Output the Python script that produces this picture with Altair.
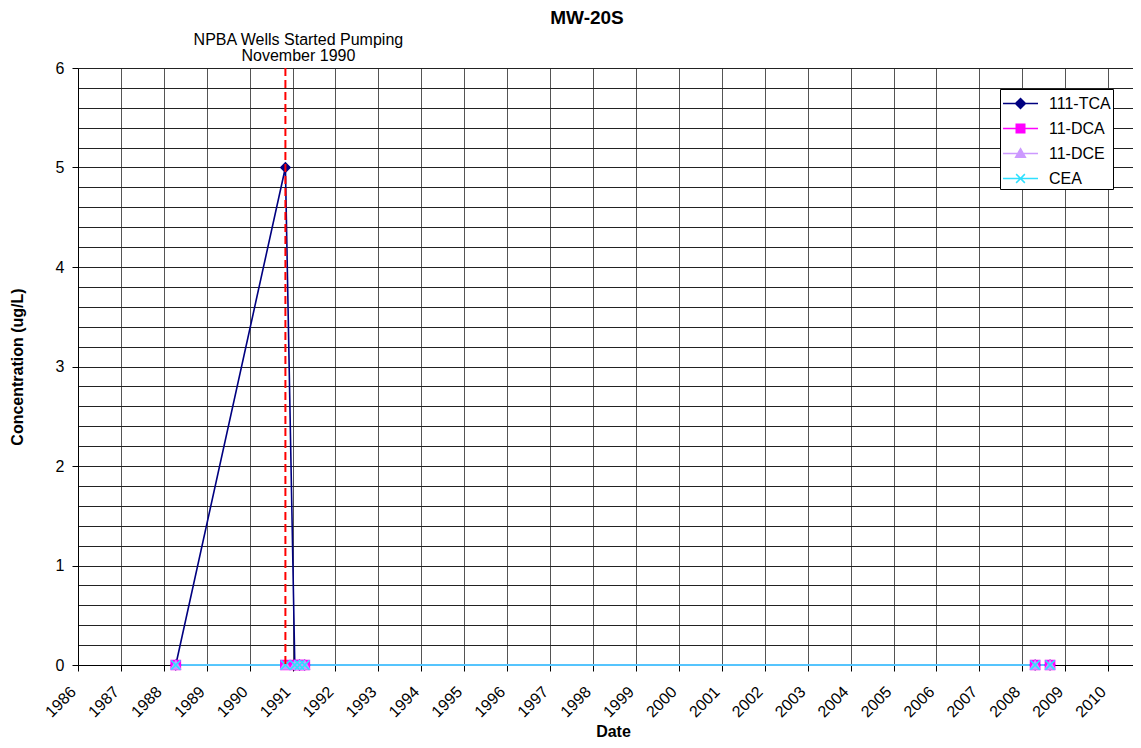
import altair as alt
import pandas as pd

# ---- data ----
chart_title = ["MW-20S"]
series_names = ["111-TCA", "11-DCA", "11-DCE", "CEA"]
series_colors = ["#000080", "#FF00FF", "#CC99FF", "#2EE0FF"]
sample_dates = ["1988-04-12", "1990-11-01", "1991-01-20", "1991-03-01",
                "1991-04-15", "2008-04-20", "2008-08-25"]
tca = [0, 5, 0, 0, 0, 0, 0]
dca = [0, 0, 0, 0, 0, 0, 0]
dce = [0, 0, 0, 0, 0, 0, 0]
cea = [0, 0, 0, 0, 0, 0, 0]
year_ticks = [1986, 1987, 1988, 1989, 1990, 1991, 1992, 1993, 1994, 1995, 1996,
              1997, 1998, 1999, 2000, 2001, 2002, 2003, 2004, 2005, 2006, 2007,
              2008, 2009, 2010]
y_grid = [0, 0.2, 0.4, 0.6, 0.8, 1, 1.2, 1.4, 1.6, 1.8, 2, 2.2, 2.4, 2.6, 2.8,
          3, 3.2, 3.4, 3.6, 3.8, 4, 4.2, 4.4, 4.6, 4.8, 5, 5.2, 5.4, 5.6, 5.8, 6]
event_dates = ["1990-11-01"]
event_labels = ["NPBA Wells Started Pumping\nNovember 1990"]

point_shapes = ["diamond", "square", "triangle-up", "M-1,-1L1,1M-1,1L1,-1"]
legend_shapes = [
    "M-1.52,0H1.52M0,-0.43L0.43,0L0,0.43L-0.43,0Z",
    "M-1.52,0H1.52M-0.37,-0.37H0.37V0.37H-0.37Z",
    "M-1.52,0H1.52M0,-0.42L0.42,0.32H-0.42Z",
    "M-1.52,0H1.52M-0.38,-0.38L0.38,0.38M-0.38,0.38L0.38,-0.38",
]

rows = []
for k, (name, vals) in enumerate(zip(series_names, [tca, dca, dce, cea])):
    for d, v in zip(sample_dates, vals):
        rows.append({"series": name, "date": d, "value": v, "k": k})
df = pd.DataFrame(rows)
legend_df = pd.DataFrame({"series": series_names, "k": list(range(len(series_names)))})
event_df = pd.DataFrame({"date": event_dates, "label": event_labels})
title_df = pd.DataFrame({"title": chart_title})

FONT = "Liberation Sans"

x_scale = alt.Scale(domain=[alt.DateTime(year=1986, month=1, date=1),
                            alt.DateTime(year=2010, month=8, date=1)], nice=False)
y_scale = alt.Scale(domain=[0, 6], nice=False)

x_axis = alt.Axis(
    values=[alt.DateTime(year=y, month=1, date=1) for y in year_ticks],
    format="%Y", labelAngle=315, labelAlign="right", labelBaseline="middle",
    labelFontSize=16, labelFont=FONT, labelOffset=-5,
    labelColor="#000", tickColor="#000", tickSize=6, domainColor="#000",
    gridColor="#555", gridWidth=1, grid=True, labelPadding=18,
    title="Date", titleFont=FONT, titleFontSize=16, titleFontWeight="bold",
    titleColor="#000", titleX=535, titleY=74, titleBaseline="bottom",
    titleAlign="center", labelOverlap=False, labelFlush=False,
)
y_axis = alt.Axis(
    values=y_grid, grid=True, gridColor="#222", gridWidth=1,
    labelExpr="abs(datum.value - round(datum.value)) < 0.01 ? datum.value : ''",
    tickOpacity={"condition": {"test": "abs(datum.value - round(datum.value)) < 0.01",
                               "value": 1}, "value": 0},
    tickColor="#000", tickSize=6, domainColor="#000",
    labelFontSize=16, labelFont=FONT, labelColor="#000", labelPadding=8,
    title="Concentration (ug/L)", titleFont=FONT, titleFontSize=16,
    titleFontWeight="bold", titleColor="#000", titlePadding=30,
)

X = alt.X("date:T", scale=x_scale, axis=x_axis)
Y = alt.Y("value:Q", scale=y_scale, axis=y_axis)

lines = alt.Chart(df).mark_line(strokeWidth=1.6, clip=False).encode(
    x=X, y=Y,
    color=alt.Color("series:N", scale=alt.Scale(domain=series_names, range=series_colors),
                    legend=None, sort=series_names),
    detail="series:N",
    order=alt.Order("date:T"),
)

points = alt.Chart(df).mark_point(filled=True, size=85, strokeWidth=1.5, opacity=1, clip=False).encode(
    x=X, y=Y,
    fill=alt.Fill("series:N", scale=alt.Scale(domain=series_names, range=series_colors), legend=None),
    stroke=alt.Stroke("series:N", scale=alt.Scale(domain=series_names, range=series_colors), legend=None),
    shape=alt.Shape("series:N", scale=alt.Scale(domain=series_names, range=point_shapes), legend=None),
    order=alt.Order("k:Q"),
)

legend_layer = alt.Chart(legend_df).mark_point(filled=True, size=529, strokeWidth=1.5, opacity=0).encode(
    x=alt.value(0), y=alt.value(0),
    fill=alt.Fill("series:N", scale=alt.Scale(domain=series_names, range=series_colors), title=None),
    stroke=alt.Stroke("series:N", scale=alt.Scale(domain=series_names, range=series_colors), title=None),
    shape=alt.Shape("series:N", scale=alt.Scale(domain=series_names, range=legend_shapes), title=None,
                    legend=alt.Legend(orient="none", legendX=922, legendY=21,
                                      strokeColor="#000", fillColor="#fff", padding=2,
                                      labelFont=FONT, labelFontSize=16, labelColor="#000",
                                      labelOffset=16, symbolOffset=6, rowPadding=4,
                                      symbolSize=529, symbolStrokeWidth=1.5,
                                      symbolOpacity=1)),
)

rule = alt.Chart(event_df).mark_rule(color="#FF0000", strokeWidth=2, strokeDash=[8, 4]).encode(
    x=alt.X("date:T", scale=x_scale)
)

label = alt.Chart(event_df).mark_text(
    font=FONT, fontSize=16, color="#000", dx=13, lineBreak="\n", lineHeight=16,
    align="center", baseline="middle",
).encode(x=alt.X("date:T", scale=x_scale), y=alt.value(-28), text="label:N")

title = alt.Chart(title_df).mark_text(
    font=FONT, fontSize=19, fontWeight="bold", color="#000",
    align="center", baseline="middle",
).encode(x=alt.value(509), y=alt.value(-50), text="title:N")

chart = alt.layer(lines, points, legend_layer, rule, label, title).resolve_scale(
    shape="independent", fill="independent", stroke="independent"
).properties(
    width=1055, height=597,
    autosize=alt.AutoSizeParams(type="none"),
    padding={"left": 70, "top": 60, "right": 0, "bottom": 75},
).configure_view(stroke=None).configure(background="#ffffff")

chart.save("out.html", embed_options={"renderer": "svg", "actions": False})
